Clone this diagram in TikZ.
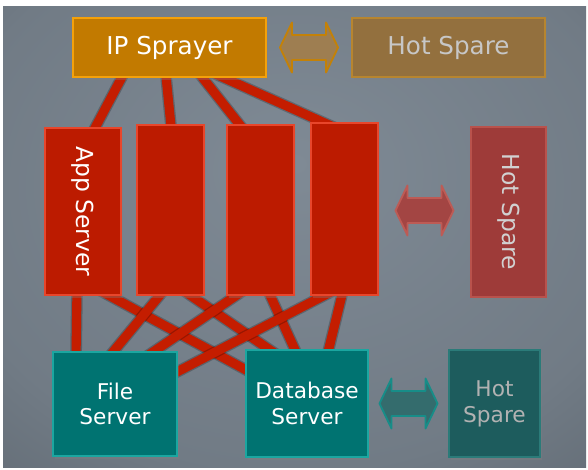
\documentclass[tikz,border=0pt]{standalone}
\usepackage{fontspec}
\setmainfont{DejaVu Sans}
\usepackage{graphicx}
\usetikzlibrary{calc,shadows}

\definecolor{bgin}{HTML}{7F8A95}
\definecolor{bgout}{HTML}{3F464D}
\definecolor{sprayfill}{HTML}{C27A00}
\definecolor{sprayline}{HTML}{F4A10A}
\definecolor{sprayspfill}{HTML}{93703E}
\definecolor{sprayspline}{HTML}{B7852F}
\definecolor{appfill}{HTML}{BC1B00}
\definecolor{appline}{HTML}{E8462B}
\definecolor{appspfill}{HTML}{9E3B39}
\definecolor{appspline}{HTML}{B9524C}
\definecolor{storefill}{HTML}{007371}
\definecolor{storeline}{HTML}{1BA6A0}
\definecolor{storespfill}{HTML}{1D5C5D}
\definecolor{storespline}{HTML}{2B7B79}
\definecolor{wirered}{HTML}{C41D00}

\pgfdeclarelayer{back}
\pgfdeclarelayer{wires}
\pgfsetlayers{back,wires,main}
\pgfdeclareradialshading{metal}{\pgfpoint{0bp}{8bp}}{color(0bp)=(bgin); color(30bp)=(bgin!78!bgout); color(72bp)=(bgout)}

\begin{document}
\begin{tikzpicture}[x=0.03cm,y=-0.03cm,
    box/.style={draw,line width=1.7pt,inner sep=0pt,outer sep=0pt,align=center,
      drop shadow={opacity=0.35,shadow xshift=1.5pt,shadow yshift=-2.5pt}},
    spray/.style={box,fill=sprayfill,draw=sprayline,text=white,
      font=\fontsize{21}{25}\selectfont,minimum width=5.79cm,minimum height=1.77cm},
    spraysp/.style={spray,fill=sprayspfill,draw=sprayspline,text=black!22},
    app/.style={box,fill=appfill,draw=appline,text=white,
      font=\fontsize{20}{24}\selectfont,minimum width=2.01cm,minimum height=5.1cm},
    appsp/.style={app,fill=appspfill,draw=appspline,text=black!18,minimum width=2.25cm},
    store/.style={box,fill=storefill,draw=storeline,text=white,
      font=\fontsize{18.5}{22}\selectfont,minimum width=3.72cm,minimum height=3.12cm},
    storesp/.style={store,fill=storespfill,draw=storespline,text=black!30,
      minimum width=2.73cm,minimum height=3.21cm},
    wire/.style={line width=7.8pt,draw=wirered,
      preaction={draw=black,draw opacity=0.22,line width=10pt}},
    swap/.style={line width=1.6pt,line join=round},
    swaparrow/.pic={
      \draw[pic actions] (-29,0) -- (-17,-25) -- (-17,-12.5) -- (17,-12.5) -- (17,-25)
        -- (29,0) -- (17,25) -- (17,12.5) -- (-17,12.5) -- (-17,25) -- cycle;}]
  \useasboundingbox (0,0) rectangle (588,469);
  \begin{pgfonlayer}{back}
    \shade[shading=metal] (3,6) rectangle (586,467);
  \end{pgfonlayer}

  % front tier
  \node[spray] (ip) at (169.5,47.5) {IP Sprayer};
  \node[spraysp] (ipspare) at (448.5,47.5) {Hot Spare};
  \pic[swap,fill=sprayspfill!90!white,draw=sprayline!80!black] (ipswap)
    at ($(ip.east)!0.5!(ipspare.west)$) {swaparrow};

  % app tier
  \node[app,minimum width=2.28cm,minimum height=5.01cm] (a1) at (83,211.5) {\rotatebox{-90}{App Server}};
  \node[app] (a2) at (170.5,210) {};
  \node[app] (a3) at (260.5,210) {};
  \node[app,minimum height=5.16cm] (a4) at (344.5,209) {};
  \node[appsp] (appspare) at (508.5,212) {\rotatebox{-90}{Hot Spare}};
  \pic[swap,fill=appspfill!95!white,draw=appspline!95!white] (appswap)
    at ($(a4.east)!0.5!(appspare.west)$) {swaparrow};

  % storage tier
  \node[store] (file) at (115,404) {File\\Server};
  \node[store,minimum width=3.66cm,minimum height=3.21cm] (db) at (307,403.5) {Database\\Server};
  \node[storesp] (dbspare) at (494.5,403.5) {Hot\\Spare};
  \pic[swap,fill=storespfill!90!white,draw=storeline!85!black] (dbswap)
    at ($(db.east)!0.5!(dbspare.west)$) {swaparrow};

  % wiring
  \begin{pgfonlayer}{wires}
    \draw[wire] ([shift={(-44.7,-5.3)}]ip.south) -- ([shift={(9.2,5.3)}]a1.north);
    \draw[wire] ([shift={(-4,-6)}]ip.south) -- ([shift={(1,6)}]a2.north);
    \draw[wire] ([shift={(28.8,-4.7)}]ip.south) -- ([shift={(-16.8,4.7)}]a3.north);
    \draw[wire] ([shift={(41.5,-5)}]ip.south) -- ([shift={(-6.5,6)}]a4.north);
    \draw[wire] ([shift={(-6,-6)}]a1.south) -- ([shift={(-39,6)}]file.north);
    \draw[wire] ([shift={(16,-5)}]a1.south) -- ([shift={(-48,27)}]db.north);
    \draw[wire] ([shift={(-6,-5.4)}]a2.south) -- ([shift={(-6.5,5.4)}]file.north);
    \draw[wire] ([shift={(12.9,-4.5)}]a2.south) -- ([shift={(-27.4,6.5)}]db.north);
    \draw[wire] ([shift={(-16.9,-4.5)}]a3.south) -- ([shift={(31.4,4.5)}]file.north);
    \draw[wire] ([shift={(7,-5.5)}]a3.south) -- ([shift={(-8.5,7.5)}]db.north);
    \draw[wire] ([shift={(-10.6,-4.6)}]a4.south) -- ([shift={(53,24.6)}]file.north);
    \draw[wire] ([shift={(-1.1,-5.8)}]a4.south) -- ([shift={(19.6,7.8)}]db.north);
  \end{pgfonlayer}
\end{tikzpicture}
\end{document}
